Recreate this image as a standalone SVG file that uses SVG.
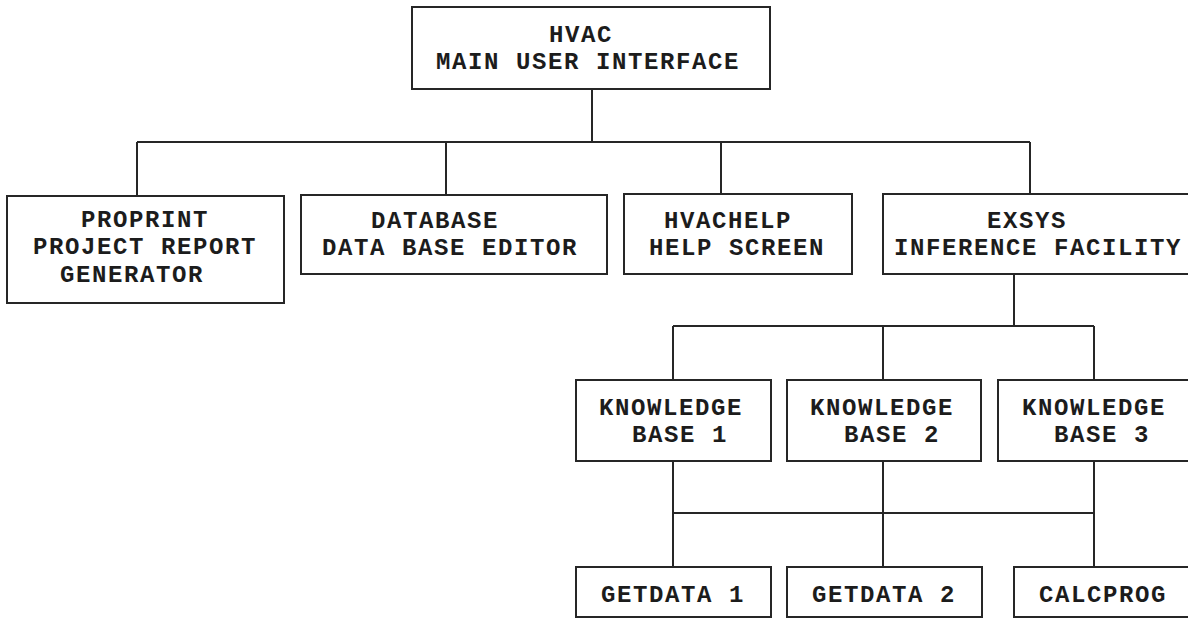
<svg xmlns="http://www.w3.org/2000/svg" width="1188" height="620" viewBox="0 0 1188 620">
  <style>
    .box { fill: #ffffff; stroke: #262626; stroke-width: 2; }
    .wire { fill: none; stroke: #262626; stroke-width: 2; }
    .lbl { font-family: "Liberation Mono", "Courier New", monospace; font-weight: bold; font-size: 24px; letter-spacing: 1.6px; fill: #1c1c1c; }
  </style>
  <rect width="1188" height="620" fill="#ffffff"/>

  <!-- connectors -->
  <g id="connectors">
    <path class="wire" d="M592 89 V142"/>
    <path class="wire" d="M137 142 H1030"/>
    <path class="wire" d="M137 142 V196 M446 142 V195 M721 142 V194 M1030 142 V194"/>
    <path class="wire" d="M1014 274 V326"/>
    <path class="wire" d="M673 326 H1094"/>
    <path class="wire" d="M673 326 V380 M883 326 V380 M1094 326 V380"/>
    <path class="wire" d="M673 461 V567 M883 461 V567 M1094 461 V567"/>
    <path class="wire" d="M673 513 H1094"/>
  </g>

  <g id="hvac">
    <rect class="box" x="412" y="7" width="358" height="82"/>
    <text class="lbl" x="549" y="42">HVAC</text>
    <text class="lbl" x="436" y="69">MAIN USER INTERFACE</text>
  </g>

  <g id="proprint">
    <rect class="box" x="7" y="196" width="277" height="107"/>
    <text class="lbl" x="81" y="227">PROPRINT</text>
    <text class="lbl" x="33" y="254">PROJECT REPORT</text>
    <text class="lbl" x="60" y="282">GENERATOR</text>
  </g>

  <g id="database">
    <rect class="box" x="301" y="195" width="306" height="79"/>
    <text class="lbl" x="371" y="228">DATABASE</text>
    <text class="lbl" x="322" y="255">DATA BASE EDITOR</text>
  </g>

  <g id="hvachelp">
    <rect class="box" x="624" y="194" width="228" height="80"/>
    <text class="lbl" x="664" y="228">HVACHELP</text>
    <text class="lbl" x="649" y="255">HELP SCREEN</text>
  </g>

  <g id="exsys">
    <rect class="box" x="883" y="194" width="310" height="80"/>
    <text class="lbl" x="987" y="228">EXSYS</text>
    <text class="lbl" x="894" y="255">INFERENCE FACILITY</text>
  </g>

  <g id="kb1">
    <rect class="box" x="576" y="380" width="195" height="81"/>
    <text class="lbl" x="599" y="415">KNOWLEDGE</text>
    <text class="lbl" x="632" y="442">BASE 1</text>
  </g>

  <g id="kb2">
    <rect class="box" x="787" y="380" width="194" height="81"/>
    <text class="lbl" x="810" y="415">KNOWLEDGE</text>
    <text class="lbl" x="844" y="442">BASE 2</text>
  </g>

  <g id="kb3">
    <rect class="box" x="998" y="380" width="195" height="81"/>
    <text class="lbl" x="1022" y="415">KNOWLEDGE</text>
    <text class="lbl" x="1054" y="442">BASE 3</text>
  </g>

  <g id="getdata1">
    <rect class="box" x="576" y="567" width="195" height="50"/>
    <text class="lbl" x="601" y="602">GETDATA 1</text>
  </g>

  <g id="getdata2">
    <rect class="box" x="787" y="567" width="195" height="50"/>
    <text class="lbl" x="812" y="602">GETDATA 2</text>
  </g>

  <g id="calcprog">
    <rect class="box" x="1014" y="567" width="179" height="50"/>
    <text class="lbl" x="1039" y="602">CALCPROG</text>
  </g>
</svg>
